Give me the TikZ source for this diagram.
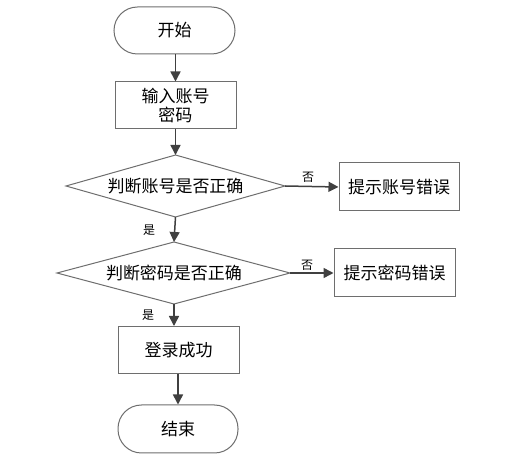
\documentclass[tikz,border=0pt]{standalone}
\usepackage{fontspec}
\setmainfont{Noto Sans CJK SC}
\usetikzlibrary{shapes.geometric,arrows.meta}
\definecolor{edgec}{HTML}{6E6E6E}
\definecolor{arrc}{HTML}{404040}
\tikzset{
  x=1pt,y=-1pt,
  shapebox/.style={draw=edgec,line width=1pt,fill=white,minimum width=121pt,minimum height=47pt,font=\fontsize{17}{21}\selectfont,align=center,inner sep=0pt},
  term/.style={shapebox,rounded corners=23.5pt},
  decision/.style={draw=edgec,line width=1pt,fill=white},
  dtext/.style={font=\fontsize{17}{21}\selectfont,inner sep=0pt},
  flow/.style={draw=arrc,line width=1.5pt,-{Triangle[length=10pt,width=10pt]}},
  lbl/.style={font=\fontsize{12}{13}\selectfont,inner sep=0pt}
}
\begin{document}
\begin{tikzpicture}
\useasboundingbox (0,0) rectangle (507,465);
\node[term] (start) at (174.5,30.5) {开始};
\node[shapebox] (input) at (175.5,105.5) {输入账号\\[-1pt]密码};
\path[decision] (66,186) -- (175.5,155) -- (285,186) -- (175.5,217) -- cycle;
\coordinate (d1) at (175.5,186);
\coordinate (d1t) at (175.5,155);
\coordinate (d1r) at (285,186);
\coordinate (d1b) at (175.5,217);
\node[dtext] (d1text) at (d1) {判断账号是否正确};
\node[shapebox,minimum width=120pt,minimum height=48pt] (err1) at (399,187) {提示账号错误};
\path[decision] (57,273) -- (174,242) -- (290,273) -- (174,304) -- cycle;
\coordinate (d2) at (174,273);
\coordinate (d2t) at (174,242);
\coordinate (d2r) at (290,273);
\coordinate (d2b) at (174,304);
\node[dtext] (d2text) at (d2) {判断密码是否正确};
\node[shapebox,minimum width=121pt,minimum height=48pt] (err2) at (394.5,273) {提示密码错误};
\node[shapebox] (ok) at (178.5,350) {登录成功};
\node[term,minimum width=120pt,minimum height=48pt] (end) at (178,429) {结束};

\draw[flow] (start.south -| input.north) -- (input.north);
\draw[flow] (input.south -| d1t) -- (d1t);
\draw[flow] (d1r) -- (err1.west);
\draw[flow] (d1b) -- (d2t);
\draw[flow] (d2r) -- (err2.west);
\draw[flow] (d2b) -- (d2b |- ok.north);
\draw[flow] (ok.south -| end.north) -- (end.north);

\node[lbl] (no1) at (308,177) {否};
\node[lbl] (yes1) at (149,230) {是};
\node[lbl] (no2) at (307,265) {否};
\node[lbl] (yes2) at (148,315) {是};
\end{tikzpicture}
\end{document}
